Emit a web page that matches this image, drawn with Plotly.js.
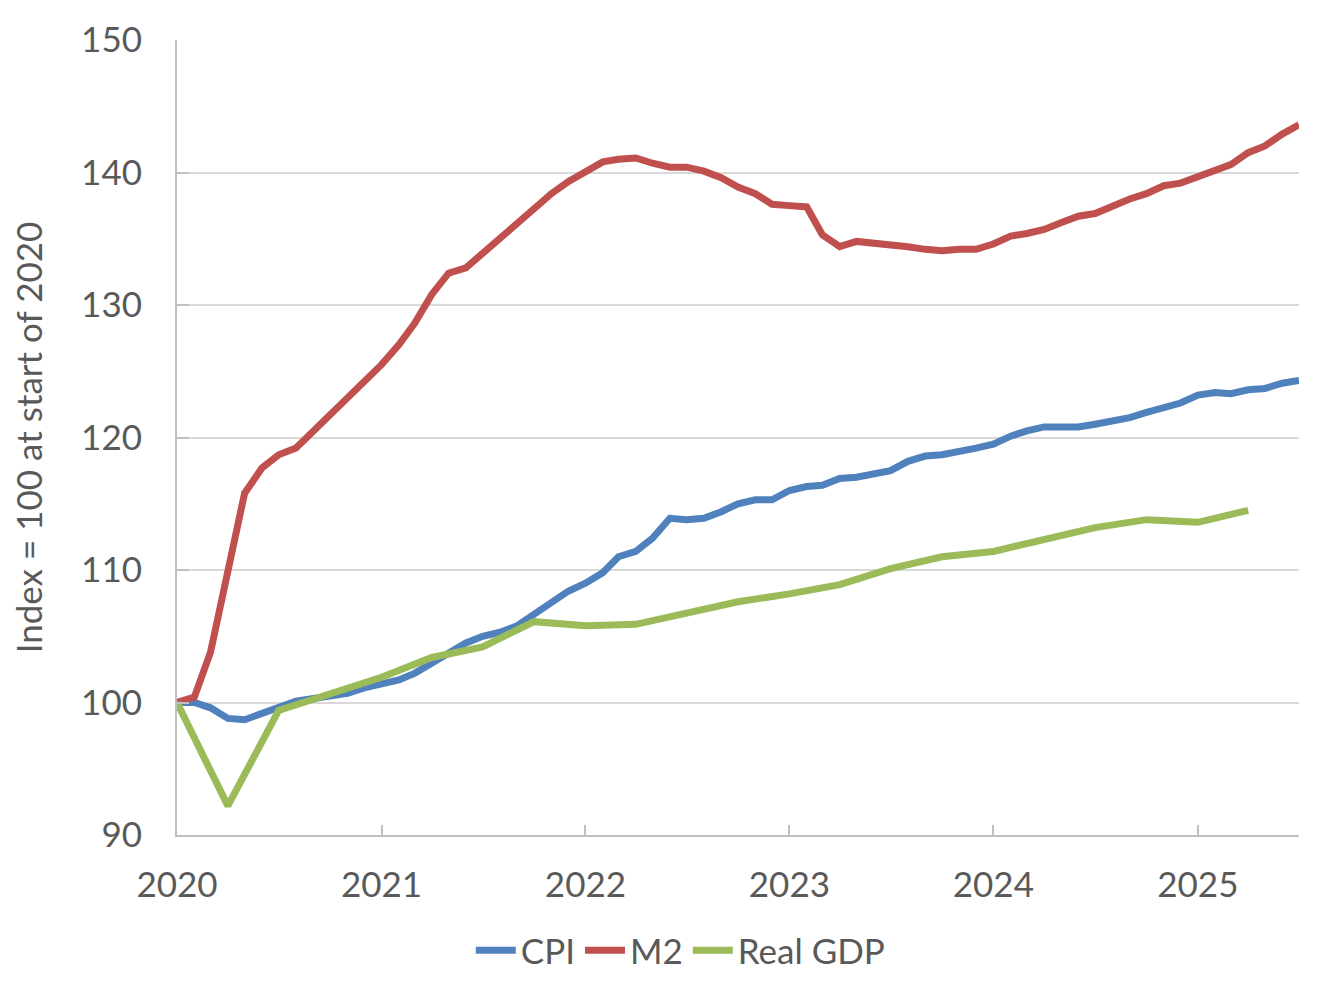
<!DOCTYPE html>
<html>
<head>
<meta charset="utf-8">
<script src="https://cdn.plot.ly/plotly-3.0.1.min.js"></script>
<style>html,body{margin:0;padding:0;background:#fff}#chart{width:1342px;height:982px}</style>
</head>
<body>
<div id="chart"></div>
<script>
// Monthly series, Jan 2020 .. Jul 2025 (index = 100 at start of 2020)
const startYear = 2020;
const cpi = [100.0,100.0,99.6,98.8,98.7,99.2,99.7,100.1,100.3,100.5,100.7,101.1,
  101.4,101.7,102.2,103.0,103.7,104.5,105.0,105.3,105.8,106.7,107.6,108.4,
  109.0,109.8,111.0,111.4,112.4,113.9,113.8,113.9,114.4,115.0,115.3,115.3,
  116.0,116.3,116.4,116.9,117.0,117.3,117.5,118.2,118.6,118.7,118.9,119.2,
  119.5,120.1,120.5,120.8,120.8,120.8,121.0,121.2,121.5,121.9,122.2,122.6,
  123.2,123.4,123.3,123.6,123.7,124.1,124.3];
const m2 = [100.0,100.4,103.8,110.2,115.8,117.7,118.7,119.2,120.5,121.7,123.1,124.2,
  125.5,127.0,128.6,130.8,132.4,132.8,133.9,135.1,136.2,137.2,138.4,139.3,
  140.1,140.8,141.0,141.1,140.7,140.4,140.4,140.1,139.6,138.9,138.4,137.6,
  137.5,137.4,135.3,134.4,134.8,134.7,134.6,134.4,134.2,134.1,134.2,134.2,
  134.6,135.2,135.4,135.7,136.2,136.7,136.9,137.5,138.0,138.4,139.0,139.2,
  139.7,140.2,140.6,141.5,142.0,142.9,143.6];
// Quarterly real GDP, Q1 2020 .. Q2 2025
const gdp = [100.0,92.2,99.4,100.6,101.9,103.4,104.2,106.1,105.8,105.9,106.7,107.6,
  108.2,108.9,110.1,111.0,111.4,112.3,113.2,113.8,113.6,114.5];
const yearTicks = ['2020','2021','2022','2023','2024','2025'];

function monthDate(i){
  const y = startYear + Math.floor(i/12);
  const m = (i % 12) + 1;
  return y + '-' + (m < 10 ? '0' + m : m) + '-01';
}
const monthDates = cpi.map((_, i) => monthDate(i));
const gdpDates = gdp.map((_, i) => monthDate(i*3));

const font = 'Lato, "Open Sans", sans-serif';
const grey = '#595959';
const fs = 35;

const traces = [
  {x: monthDates, y: cpi, name: 'CPI', mode: 'lines', line: {color: '#4f81bd', width: 7}},
  {x: monthDates, y: m2, name: 'M2', mode: 'lines', line: {color: '#c0504d', width: 7}},
  {x: gdpDates, y: gdp, name: 'Real GDP', mode: 'lines', line: {color: '#9bbb59', width: 7}}
];

const layout = {
  width: 1342, height: 982,
  margin: {l: 177, r: 43, t: 40, b: 147, autoexpand: false},
  paper_bgcolor: '#ffffff', plot_bgcolor: '#ffffff',
  font: {family: font, color: grey, size: fs},
  showlegend: true,
  legend: {orientation: 'h', x: 0.449, xanchor: 'center', yref: 'container', y: 0.032, yanchor: 'middle',
    font: {family: font, size: fs, color: grey}, itemwidth: 40, tracegroupgap: 0},
  xaxis: {
    type: 'date',
    range: ['2020-01-01', monthDates[monthDates.length-1]],
    tickvals: yearTicks.map(y => y + '-01-01'),
    ticktext: yearTicks,
    showgrid: false, zeroline: false,
    showline: true, linecolor: '#bfbfbf', linewidth: 2,
    ticks: 'inside', ticklen: 10, tickwidth: 2, tickcolor: '#bfbfbf',
    ticklabelstandoff: 18,
    tickfont: {family: font, size: fs, color: grey}
  },
  yaxis: {
    range: [90, 150], dtick: 10, tick0: 90,
    showgrid: true, gridcolor: '#d9d9d9', gridwidth: 2,
    zeroline: false,
    showline: true, linecolor: '#bfbfbf', linewidth: 2,
    ticks: 'inside', ticklen: 12, tickwidth: 2, tickcolor: '#bfbfbf',
    ticklabelstandoff: 26,
    tickfont: {family: font, size: fs, color: grey},
    title: {text: 'Index = 100 at start of 2020', font: {family: font, size: fs, color: grey}, standoff: 28}
  }
};

Plotly.newPlot('chart', traces, layout, {displayModeBar: false, staticPlot: true});
</script>
</body>
</html>
